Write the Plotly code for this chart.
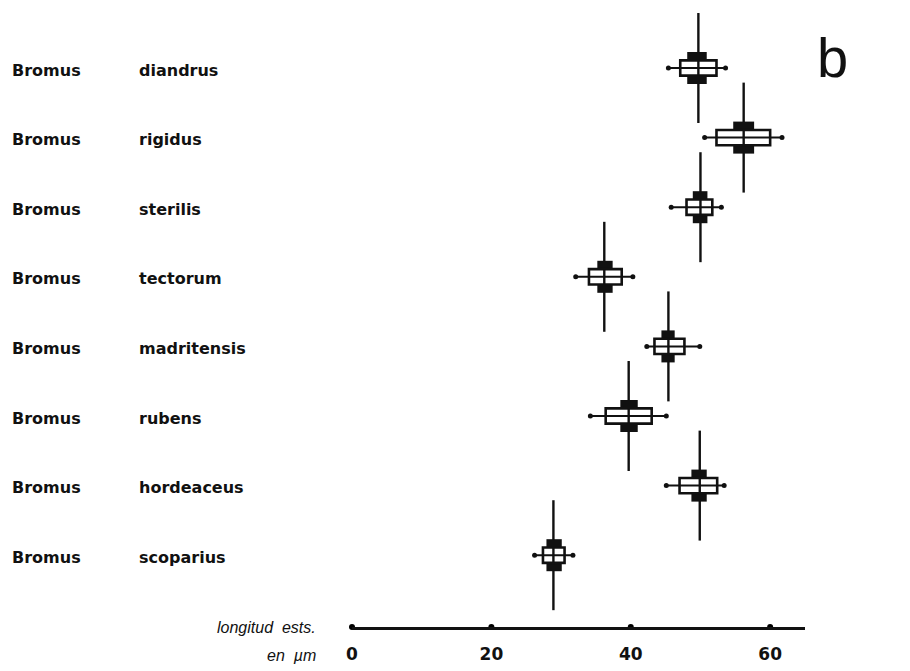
import plotly.graph_objects as go

species = ["diandrus", "rigidus", "sterilis", "tectorum", "madritensis", "rubens", "hordeaceus", "scoparius"]
genus = "Bromus"
mean = [49.7, 56.2, 50.0, 36.2, 45.4, 39.7, 49.9, 28.9]
range_lo = [45.4, 50.6, 45.8, 32.1, 42.3, 34.2, 45.1, 26.2]
range_hi = [53.6, 61.7, 53.0, 40.3, 49.9, 45.1, 53.4, 31.7]
sd_lo = [47.1, 52.3, 48.0, 34.0, 43.4, 36.4, 47.0, 27.4]
sd_hi = [52.3, 60.0, 51.7, 38.7, 47.7, 43.0, 52.4, 30.5]
se_lo = [48.1, 54.7, 48.9, 35.2, 44.4, 38.5, 48.7, 27.9]
se_hi = [50.9, 57.7, 51.0, 37.4, 46.3, 41.0, 50.9, 30.1]
tick_vals = [0, 20, 40, 60]
tick_text = ["0", "20", "40", "60"]
axis_title_1 = "longitud  ests."
axis_title_2 = "en  µm"
panel_letter = "b"

# page has an 8px body margin; work in figure coordinates
OFF = 8
W, H = 910 - OFF, 671 - OFF
L = 352 - OFF
R = W - (805 - OFF)
T = 0
B = H - (627 - OFF)
row0_px, row_step = 68 - OFF, 69.6
y_top = (0 - row0_px) / row_step
y_bot = (H - B - row0_px) / row_step
PW = W - L - R

fig = go.Figure()
shapes = []
ink = "#111111"
rect_h = 0.11
blk_h = 0.23
mean_h = 0.79
for i in range(len(species)):
    shapes.append(dict(type="line", xref="x", yref="y", x0=mean[i], x1=mean[i],
                       y0=i - mean_h, y1=i + mean_h, line=dict(color=ink, width=2.4)))
    shapes.append(dict(type="rect", xref="x", yref="y", x0=se_lo[i], x1=se_hi[i],
                       y0=i - blk_h, y1=i + blk_h, fillcolor=ink, line=dict(width=0)))
    shapes.append(dict(type="rect", xref="x", yref="y", x0=sd_lo[i], x1=sd_hi[i],
                       y0=i - rect_h, y1=i + rect_h, fillcolor="white",
                       line=dict(color=ink, width=2.6)))
    shapes.append(dict(type="line", xref="x", yref="y", x0=range_lo[i], x1=range_hi[i],
                       y0=i, y1=i, line=dict(color=ink, width=2)))
    shapes.append(dict(type="line", xref="x", yref="y", x0=mean[i], x1=mean[i],
                       y0=i - rect_h, y1=i + rect_h, line=dict(color=ink, width=2.4)))

ends_x, ends_y = [], []
for i in range(len(species)):
    ends_x += [range_lo[i], range_hi[i]]
    ends_y += [i, i]
fig.add_trace(go.Scatter(x=ends_x, y=ends_y, mode="markers",
                         marker=dict(color=ink, size=5, symbol="circle"),
                         hoverinfo="skip", showlegend=False))
fig.add_trace(go.Scatter(x=tick_vals, y=[y_bot] * len(tick_vals), mode="markers",
                         marker=dict(color="black", size=6, opacity=1), cliponaxis=False,
                         hoverinfo="skip", showlegend=False))

annotations = []
lab_font = dict(family="DejaVu Sans", size=16, color=ink, weight="bold")
for i, sp in enumerate(species):
    annotations.append(dict(text=genus, xref="paper", yref="y", x=(10 - OFF - L) / PW, y=i,
                            xanchor="left", yanchor="middle", showarrow=False, font=lab_font,
                            yshift=-2))
    annotations.append(dict(text=sp, xref="paper", yref="y", x=(137 - OFF - L) / PW, y=i,
                            xanchor="left", yanchor="middle", showarrow=False, font=lab_font,
                            yshift=-2))

it_font = dict(family="Liberation Sans", size=16, color=ink, style="italic")
annotations.append(dict(text=axis_title_1, xref="paper", yref="paper", x=(318 - OFF - L) / PW, y=0,
                        xanchor="right", yanchor="middle", showarrow=False, font=it_font, yshift=0))
annotations.append(dict(text=axis_title_2, xref="paper", yref="paper", x=(318 - OFF - L) / PW, y=0,
                        xanchor="right", yanchor="middle", showarrow=False, font=it_font, yshift=-28))
annotations.append(dict(text=panel_letter, xref="paper", yref="paper", x=(815 - OFF - L) / PW, y=1,
                        xanchor="left", yanchor="top", showarrow=False,
                        font=dict(family="Liberation Sans", size=56, color=ink), yshift=-16))

fig.update_layout(
    width=W, height=H, margin=dict(l=L, r=R, t=T, b=B),
    paper_bgcolor="white", plot_bgcolor="white",
    shapes=shapes, annotations=annotations, showlegend=False,
    xaxis=dict(range=[0, 65], showgrid=False, zeroline=False, showline=True,
               linecolor=ink, linewidth=2.5, tickvals=tick_vals, ticktext=tick_text,
               ticks="", tickfont=dict(family="DejaVu Sans", size=17, color=ink, weight="bold"),
               ticklabelstandoff=10, fixedrange=True),
    yaxis=dict(range=[y_bot, y_top], visible=False, showgrid=False, zeroline=False, fixedrange=True),
)

fig.write_html("out.html")
